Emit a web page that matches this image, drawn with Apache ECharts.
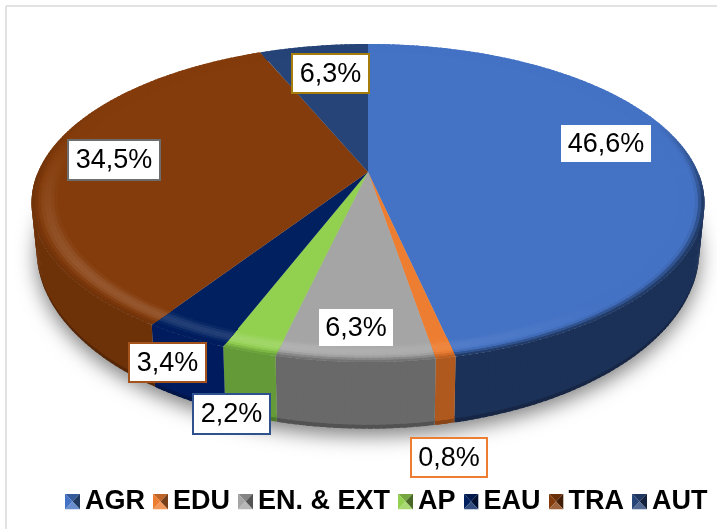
<!DOCTYPE html>
<html>
<head>
<meta charset="utf-8">
<style>
  html, body { margin: 0; padding: 0; background: #fff; }
  #chart { width: 717px; height: 529px; }
</style>
<script src="https://cdn.jsdelivr.net/npm/echarts@6/dist/echarts.min.js"></script>
</head>
<body>
<div id="chart"></div>
<script>
const categories = ['AGR', 'EDU', 'EN. & EXT', 'AP', 'EAU', 'TRA', 'AUT'];
const shares = [46.6, 0.8, 6.3, 2.2, 3.4, 34.5, 6.3];

const topColors = ['#4472c4', '#ed7d31', '#a5a5a5', '#92d050', '#002060', '#843c0c', '#264478'];
const wallColors = ['#1c3157', '#b0591f', '#696969', '#649a38', '#001c5e', '#6e3209', '#1c3157'];
const labelBorders = [null, '#ed7d31', null, '#2f528f', '#a5531c', '#6d6d6d', '#a67c0b'];

// label boxes: left, top, width, height
const labelBoxes = [
    [561, 125, 90, 37],
    [411, 438, 76, 39],
    [319, 309, 74, 37],
    [193, 394, 77, 40],
    [129, 343, 77, 39],
    [68, 140, 92, 40],
    [292, 54, 77, 39]
];

// perspective of the disc: top face and lower edge
const cx = 368;
const tilt = 0.195;
const topDisc = { py: 172, R: 330, S: 153 };
const lowDisc = { py: 215, R: 325, S: 172 };
const rimStart = 0.925;
const rimSteps = 8;

const total = shares.reduce((a, b) => a + b, 0);

function project(disc, deg, r) {
    const a = deg * Math.PI / 180;
    const u = r * Math.sin(a);
    const v = -r * Math.cos(a);
    const w = 1 - tilt * v;
    return [cx + disc.R * u / w, disc.py + disc.S * v / w];
}

function hexToRgb(hex) {
    return [1, 3, 5].map(i => parseInt(hex.substr(i, 2), 16));
}

function mix(c1, c2, t) {
    const a = hexToRgb(c1);
    const b = hexToRgb(c2);
    const out = a.map((x, i) => Math.round(x + (b[i] - x) * t));
    return '#' + out.map(x => x.toString(16).padStart(2, '0')).join('');
}

function sliceRange(i) {
    let start = 0;
    for (let k = 0; k < i; k++) start += shares[k];
    return [start / total * 360, (start + shares[i]) / total * 360];
}

function poly(points, color) {
    return {
        type: 'polygon',
        silent: true,
        shape: { points: points },
        style: { fill: color }
    };
}

function steps(from, to) {
    const out = [];
    const n = Math.max(1, Math.ceil(to - from));
    for (let k = 0; k <= n; k++) out.push(from + (to - from) * k / n);
    return out;
}

// how strong the bevel light is around the front of the disc
function frontLight(deg) {
    if (deg < 140 || deg > 285) return 0;
    if (deg < 190) return (deg - 140) / 50;
    if (deg > 235) return (285 - deg) / 50;
    return 1;
}

function frontDark(deg) {
    if (deg < 70 || deg > 300) return 0;
    if (deg < 100) return (deg - 70) / 30;
    if (deg > 270) return (300 - deg) / 30;
    return 1;
}

function renderSlice(i) {
    const [start, end] = sliceRange(i);
    const angles = steps(start, end);
    const children = [];
    // pieces overlap the next one so no seams show, later pieces paint over
    const over = b => Math.min(end, b + 0.7);
    const lerp = (p, q, s) => [p[0] + (q[0] - p[0]) * s, p[1] + (q[1] - p[1]) * s];

    // wall, only where it faces the viewer
    for (let k = 0; k < angles.length - 1; k++) {
        const a = angles[k];
        const b = over(angles[k + 1]);
        if (-Math.cos((a + b) / 2 * Math.PI / 180) < 0.02) continue;
        const t1 = project(topDisc, a, 1);
        const t2 = project(topDisc, b, 1);
        const l1 = project(lowDisc, a, 1);
        const l2 = project(lowDisc, b, 1);
        children.push(poly([lerp(t1, l1, 0.9), lerp(t2, l2, 0.9), l2, l1], mix(wallColors[i], '#000000', 0.22)));
    }
    for (let k = 0; k < angles.length - 1; k++) {
        const a = angles[k];
        const b = over(angles[k + 1]);
        if (-Math.cos((a + b) / 2 * Math.PI / 180) < 0.02) continue;
        const t1 = project(topDisc, a, 1);
        const t2 = project(topDisc, b, 1);
        const l1 = project(lowDisc, a, 1);
        const l2 = project(lowDisc, b, 1);
        children.push(poly([t1, t2, lerp(t2, l2, 0.94), lerp(t1, l1, 0.94)], wallColors[i]));
    }

    // bevel round the edge, outermost ring first
    for (let s = rimSteps - 1; s >= 0; s--) {
        const tm = (s + 0.5) / rimSteps;
        const r0 = rimStart - 0.01;
        const r1 = rimStart + (1 - rimStart) * (s + 1) / rimSteps;
        for (let k = 0; k < angles.length - 1; k++) {
            const a = angles[k];
            const b = over(angles[k + 1]);
            const m = (a + b) / 2;
            const lit = Math.sin(Math.PI * Math.min(1, tm * 1.35)) * frontLight(m);
            const dark = Math.max(0, (tm - 0.65) / 0.35) * frontDark(m);
            let color = mix(topColors[i], '#ffffff', 0.14 * lit);
            color = mix(color, wallColors[i], dark);
            children.push(poly([
                project(topDisc, a, r0), project(topDisc, b, r0),
                project(topDisc, b, r1), project(topDisc, a, r1)
            ], color));
        }
    }

    // top face
    const face = [[cx, topDisc.py]];
    angles.forEach(a => face.push(project(topDisc, a, rimStart)));
    children.push(poly(face, topColors[i]));

    return { type: 'group', children: children };
}

function renderShadow() {
    const pts = steps(0, 360).map(a => project(lowDisc, a, 1));
    return {
        type: 'polygon',
        silent: true,
        shape: { points: pts },
        style: {
            fill: '#bbbbbb',
            shadowBlur: 20,
            shadowColor: 'rgba(0,0,0,0.5)',
            shadowOffsetX: 0,
            shadowOffsetY: 7
        }
    };
}

function shareText(v) {
    return v.toFixed(1).replace('.', ',') + '%';
}

function renderLabel(i) {
    const [x, y, w, h] = labelBoxes[i];
    const border = labelBorders[i];
    return {
        type: 'group',
        children: [
            {
                type: 'rect',
                silent: true,
                shape: { x: x, y: y, width: w, height: h },
                style: { fill: '#ffffff', stroke: border || '#ffffff', lineWidth: border ? 2 : 0 }
            },
            {
                type: 'text',
                silent: true,
                style: {
                    x: x + w / 2,
                    y: y + h / 2 + 1,
                    text: shareText(shares[i]),
                    fill: '#000000',
                    font: '27px "Liberation Sans", Arial, sans-serif',
                    align: 'center',
                    verticalAlign: 'middle'
                }
            }
        ]
    };
}

function legendIcon(color) {
    const top = mix(color, '#000000', 0.2);
    const left = color;
    const right = mix(color, '#000000', 0.5);
    const bottom = mix(color, '#ffffff', 0.2);
    const svg = '<svg xmlns="http://www.w3.org/2000/svg" width="15" height="16">'
        + `<polygon points="0,0 15,0 7.5,8" fill="${top}"/>`
        + `<polygon points="0,0 7.5,8 0,16" fill="${left}"/>`
        + `<polygon points="15,0 15,16 7.5,8" fill="${right}"/>`
        + `<polygon points="0,16 15,16 7.5,8" fill="${bottom}"/>`
        + '</svg>';
    return 'image://data:image/svg+xml;charset=utf-8,' + encodeURIComponent(svg);
}

const chart = echarts.init(document.getElementById('chart'));

const series = [{
    name: 'shadow',
    type: 'custom',
    coordinateSystem: 'none',
    silent: true,
    data: [0],
    renderItem: renderShadow
}];

categories.forEach((name, i) => {
    series.push({
        name: name,
        type: 'custom',
        coordinateSystem: 'none',
        silent: true,
        itemStyle: { color: topColors[i] },
        data: [shares[i]],
        renderItem: () => renderSlice(i)
    });
});

series.push({
    name: 'labels',
    type: 'custom',
    coordinateSystem: 'none',
    silent: true,
    z: 10,
    data: shares,
    renderItem: params => renderLabel(params.dataIndex)
});

chart.setOption({
    animation: false,
    backgroundColor: '#ffffff',
    legend: {
        left: 65,
        top: 488,
        padding: 0,
        itemGap: 8,
        itemWidth: 15,
        itemHeight: 16,
        selectedMode: false,
        textStyle: {
            color: '#000000',
            fontFamily: '"Liberation Sans", Arial, sans-serif',
            fontWeight: 'bold',
            fontSize: 27
        },
        data: categories.map((name, i) => ({ name: name, icon: legendIcon(topColors[i]) }))
    },
    graphic: [
        { type: 'line', silent: true, shape: { x1: 6, y1: 6, x2: 6, y2: 529 }, style: { stroke: '#e2e2e2', lineWidth: 2 } },
        { type: 'line', silent: true, shape: { x1: 6, y1: 6, x2: 717, y2: 6 }, style: { stroke: '#e2e2e2', lineWidth: 2 } }
    ],
    series: series
});
</script>
</body>
</html>
